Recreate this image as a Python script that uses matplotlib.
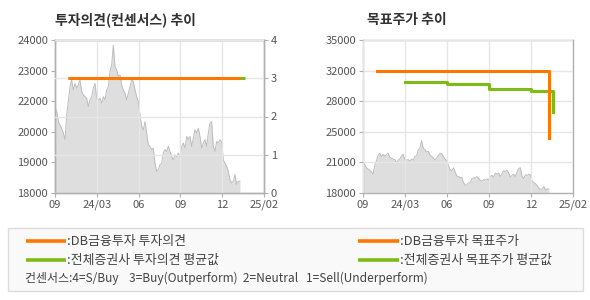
import numpy as np
import matplotlib
matplotlib.use("Agg")
import matplotlib.pyplot as plt
from matplotlib.lines import Line2D
from matplotlib.patches import Rectangle

plt.rcParams['font.family'] = ['Noto Sans CJK KR', 'DejaVu Sans']

# 주가 (일별 종가, 대략)
price = [21370, 21200, 20800, 20670, 20540, 20350, 20090, 21070, 21590, 22170,
         22430, 22040, 22300, 22110, 22240, 22430, 21980, 21850, 21780, 21720,
         21390, 21650, 21780, 22110, 22300, 21720, 21650, 21720, 21520, 21780,
         21650, 22040, 22170, 22760, 23020, 23800, 22960, 22830, 22570, 22630,
         22240, 22040, 21910, 21650, 21910, 22170, 22430, 22370, 22040, 21780,
         21590, 21070, 20610, 20480, 20800, 20350, 19890, 19830, 19700, 19760,
         19170, 18850, 18910, 19110, 19170, 19570, 19700, 19630, 19830, 19630,
         19430, 19300, 19500, 19430, 19570, 19430, 19830, 19960, 19760, 20220,
         20090, 20220, 19830, 20150, 20480, 20350, 20540, 20220, 19760, 19960,
         20090, 19830, 20350, 20740, 20800, 19830, 19630, 20020, 19960, 20090,
         20020, 19300, 19170, 19040, 18850, 18520, 18390, 18460, 18720, 18330,
         18460, 18460]
price_end = 88.5

x_ticks = [0, 20, 40, 60, 80, 100]
x_labels = ['09', '24/03', '06', '09', '12', '25/02']

# 투자의견
op_x = [6.4, 88.5]
op_val = [3, 3]
op_avg_x = [6.4, 91.1]
op_avg_val = [3, 3]

# 목표주가
tp_x = [6.7, 88.6, 88.6]
tp_val = [31600, 31600, 24100]
tp_avg_x = [20, 40.2, 60.2, 80.2, 90.5, 90.5]
tp_avg_val = [30380, 30160, 29600, 29380, 29380, 27050]

left_labels = ['18000', '19000', '20000', '22000', '23000', '24000']
right_labels = ['18000', '21000', '25000', '28000', '32000', '35000']

ORANGE = '#ff7700'
GREEN = '#7dbb16'
SPINE = '#b0b0b0'
GRID = '#e6e6e6'
TXT = '#555555'

fig = plt.figure(figsize=(5.9, 3.0), dpi=100)
fig.patch.set_facecolor('white')

px = np.linspace(0, price_end, len(price))


def style(ax):
    for s in ax.spines.values():
        s.set_color(SPINE)
        s.set_linewidth(1)
    ax.tick_params(colors=SPINE, labelcolor=TXT, labelsize=8, length=3, width=0.8, pad=2)


# ---- 왼쪽: 투자의견 ----
ax = fig.add_axes([55/590, 107/300, 209/590, 153/300])
ax.fill_between(px, price, 18000, color='#dedede', lw=0, zorder=1)
ax.plot(px, price, color='#bdbdbd', lw=0.7, zorder=1.5)
ax.set_xlim(0, 100)
ax.set_ylim(18000, 24000)
ax.set_yticks(np.linspace(18000, 24000, 6))
ax.set_yticklabels(left_labels)
ax.set_xticks(x_ticks)
ax.set_xticklabels(x_labels)
ax.set_axisbelow(False)
ax.grid(axis='x', color=GRID, lw=1)
style(ax)

ax2 = ax.twinx()
ax2.set_ylim(0, 4)
ax2.set_yticks([0, 1, 2, 3, 4])
ax2.grid(axis='y', color=GRID, lw=1)
ax2.set_axisbelow(False)
ax2.plot(op_avg_x, op_avg_val, color=GREEN, lw=2.2, solid_capstyle='butt', zorder=3)
ax2.plot(op_x, op_val, color=ORANGE, lw=2.2, solid_capstyle='butt', zorder=4)
style(ax2)

fig.text(55/590, 1 - 20/300, '투자의견(컨센서스) 추이', fontsize=10, fontweight='bold',
         color='#333333', va='center', ha='left')

# ---- 오른쪽: 목표주가 ----
bx = fig.add_axes([363/590, 107/300, 210/590, 153/300])
bx.fill_between(px, price, 18000, color='#dedede', lw=0, zorder=1)
bx.plot(px, price, color='#bdbdbd', lw=0.7, zorder=1.5)
bx.set_xlim(0, 100)
bx.set_ylim(18000, 35000)
bx.set_yticks(np.linspace(18000, 35000, 6))
bx.set_yticklabels(right_labels)
bx.set_xticks(x_ticks)
bx.set_xticklabels(x_labels)
bx.set_axisbelow(False)
bx.grid(color=GRID, lw=1)
bx.plot(tp_avg_x, tp_avg_val, color=GREEN, lw=2.2, drawstyle='steps-post', zorder=3)
bx.plot(tp_x, tp_val, color=ORANGE, lw=2.2, zorder=4)
style(bx)

fig.text(367/590, 1 - 20/300, '목표주가 추이', fontsize=10, fontweight='bold',
         color='#333333', va='center', ha='left')

# ---- 범례 박스 ----
fig.patches.append(Rectangle((8/590, 9/300), 575/590, 63/300, transform=fig.transFigure,
                             facecolor='#f9f9f9', edgecolor='#dcdcdc', lw=1))

rows = [1 - 241/300, 1 - 260/300]
legend_items = [
    (26, 66, rows[0], ORANGE, ':DB금융투자 투자의견'),
    (26, 66, rows[1], GREEN, ':전체증권사 투자의견 평균값'),
    (358, 399, rows[0], ORANGE, ':DB금융투자 목표주가'),
    (358, 399, rows[1], GREEN, ':전체증권사 목표주가 평균값'),
]
for x0, x1, yy, c, label in legend_items:
    fig.lines.append(Line2D([x0/590, x1/590], [yy, yy], transform=fig.transFigure,
                            color=c, lw=2.6, solid_capstyle='butt'))
    fig.text((x1 + 1)/590, yy, label, fontsize=9.3, color='#444444', va='center', ha='left')

fig.text(25/590, 1 - 278/300,
         '컨센서스:4=S/Buy    3=Buy(Outperform)  2=Neutral   1=Sell(Underperform)',
         fontsize=8.6, color='#444444', va='center', ha='left')

fig.savefig('out.png', dpi=100, facecolor='white')
